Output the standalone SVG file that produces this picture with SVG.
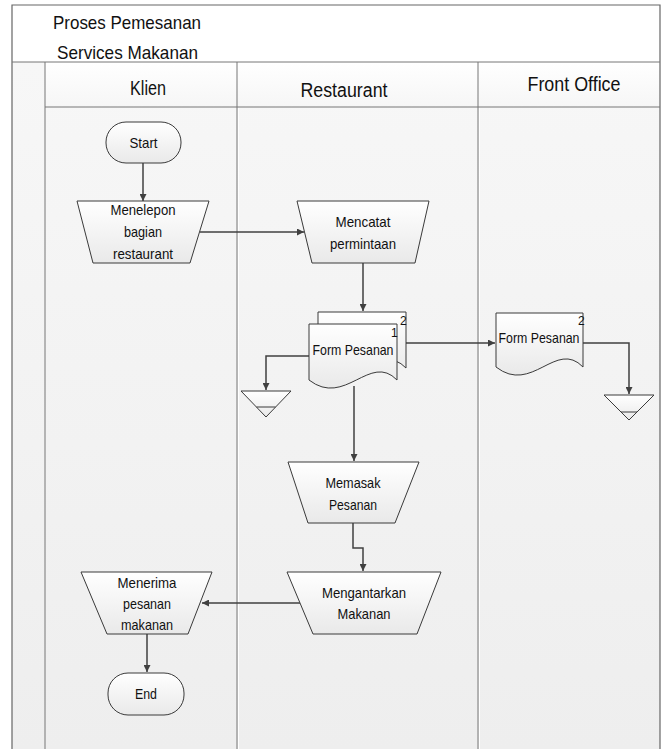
<svg xmlns="http://www.w3.org/2000/svg" width="667" height="749" viewBox="0 0 667 749">
<defs>
<linearGradient id="lane" x1="0" y1="0" x2="0" y2="1">
<stop offset="0" stop-color="#f7f7f7"/><stop offset="1" stop-color="#eeeeee"/>
</linearGradient>
<linearGradient id="head" x1="0" y1="0" x2="0" y2="1">
<stop offset="0" stop-color="#ffffff"/><stop offset="1" stop-color="#f6f6f6"/>
</linearGradient>
<linearGradient id="node" x1="0" y1="0" x2="0" y2="1">
<stop offset="0" stop-color="#ffffff"/><stop offset="1" stop-color="#e9e9e9"/>
</linearGradient>
<marker id="arr" viewBox="0 0 10 10" refX="10" refY="5" markerWidth="7" markerHeight="7" markerUnits="userSpaceOnUse" orient="auto">
<path d="M0,0 L10,5 L0,10 Z" fill="#404040"/>
</marker>
<style>
.frame{fill:none;stroke:#666;stroke-width:1.2}
.div{stroke:#777;stroke-width:1}
.shape{fill:url(#node);stroke:#3a3a3a;stroke-width:1}
.conn{fill:none;stroke:#404040;stroke-width:1.5}
.t{font-family:"Liberation Sans",Arial,sans-serif;font-size:14.5px;fill:#111;text-anchor:middle}
.title{font-family:"Liberation Sans",Arial,sans-serif;font-size:19px;fill:#111}
.lane{font-family:"Liberation Sans",Arial,sans-serif;font-size:20px;fill:#111;text-anchor:middle}
.num{font-family:"Liberation Sans",Arial,sans-serif;font-size:12px;fill:#111}
</style>
</defs>
<rect x="0" y="0" width="667" height="749" fill="#ffffff"/>
<g id="pool">
<rect x="12" y="5" width="648" height="57" fill="#ffffff"/>
<rect x="12" y="62" width="648" height="687" fill="url(#lane)"/>
<rect x="45" y="62" width="615" height="45" fill="url(#head)"/>
<path class="frame" d="M12,749 V5 H660 V749"/>
<line class="div" x1="12" y1="62" x2="660" y2="62"/>
<line class="div" x1="45" y1="62" x2="45" y2="749"/>
<line class="div" x1="45" y1="107" x2="660" y2="107"/>
<line class="div" x1="237" y1="62" x2="237" y2="749"/>
<line class="div" x1="478" y1="62" x2="478" y2="749"/>
<line x1="238.5" y1="108" x2="238.5" y2="749" stroke="#ffffff" stroke-width="1"/>
<line x1="479.5" y1="108" x2="479.5" y2="749" stroke="#ffffff" stroke-width="1"/>
<text class="title" x="53" y="29" textLength="148" lengthAdjust="spacingAndGlyphs">Proses Pemesanan</text>
<text class="title" x="57" y="59" textLength="141" lengthAdjust="spacingAndGlyphs">Services Makanan</text>
<text class="lane" x="148" y="95" textLength="36" lengthAdjust="spacingAndGlyphs">Klien</text>
<text class="lane" x="344" y="97" textLength="87" lengthAdjust="spacingAndGlyphs">Restaurant</text>
<text class="lane" x="574" y="91" textLength="93" lengthAdjust="spacingAndGlyphs">Front Office</text>
</g>
<g id="connectors">
<path class="conn" d="M143,163 V201" marker-end="url(#arr)"/>
<path class="conn" d="M200,232 H304" marker-end="url(#arr)"/>
<path class="conn" d="M363,263 V311" marker-end="url(#arr)"/>
<path class="conn" d="M309,356 H266 V390" marker-end="url(#arr)"/>
<path class="conn" d="M406,343 H495" marker-end="url(#arr)"/>
<path class="conn" d="M583,343 H629 V394" marker-end="url(#arr)"/>
<path class="conn" d="M354,386 V461" marker-end="url(#arr)"/>
<path class="conn" d="M353,523 V548 H363 V571" marker-end="url(#arr)"/>
<path class="conn" d="M300,603 H202" marker-end="url(#arr)"/>
<path class="conn" d="M147,634 V672" marker-end="url(#arr)"/>
</g>
<g id="start">
<rect class="shape" x="106" y="122" width="75" height="41" rx="20" ry="20"/>
<text class="t" x="143.5" y="148" textLength="28" lengthAdjust="spacingAndGlyphs">Start</text>
</g>
<g id="menelepon">
<path class="shape" d="M77,201 H209 L190,263 H93 Z"/>
<text class="t" x="143" y="215" textLength="65" lengthAdjust="spacingAndGlyphs">Menelepon</text>
<text class="t" x="143" y="237" textLength="38" lengthAdjust="spacingAndGlyphs">bagian</text>
<text class="t" x="143" y="259" textLength="60" lengthAdjust="spacingAndGlyphs">restaurant</text>
</g>
<g id="mencatat">
<path class="shape" d="M297,201 H429 L415,263 H312 Z"/>
<text class="t" x="363" y="227" textLength="55" lengthAdjust="spacingAndGlyphs">Mencatat</text>
<text class="t" x="363" y="249" textLength="66" lengthAdjust="spacingAndGlyphs">permintaan</text>
</g>
<g id="form-pesanan-restaurant">
<path class="shape" d="M318,312 H406 V368 C379,340 354,396 318,368 Z"/>
<text class="num" x="400" y="325">2</text>
<path class="shape" d="M309,324 H397 V380 C370,352 345,408 309,380 Z"/>
<text class="num" x="391" y="337">1</text>
<text class="t" x="353" y="355" textLength="81" lengthAdjust="spacingAndGlyphs">Form Pesanan</text>
</g>
<g id="arsip-restaurant">
<path class="shape" d="M241,391 H291 L266,417 Z"/>
<line x1="256.5" y1="407" x2="275.5" y2="407" stroke="#3a3a3a" stroke-width="1"/>
</g>
<g id="form-pesanan-fo">
<path class="shape" d="M496,313 H583 V367 C556,339 532,395 496,367 Z"/>
<text class="num" x="578" y="325">2</text>
<text class="t" x="539" y="343" textLength="81" lengthAdjust="spacingAndGlyphs">Form Pesanan</text>
</g>
<g id="arsip-fo">
<path class="shape" d="M604,395 H654 L629,420 Z"/>
<line x1="621" y1="412" x2="637" y2="412" stroke="#3a3a3a" stroke-width="1"/>
</g>
<g id="memasak">
<path class="shape" d="M288,462 H419 L395,523 H308 Z"/>
<text class="t" x="353" y="488" textLength="55" lengthAdjust="spacingAndGlyphs">Memasak</text>
<text class="t" x="353" y="510" textLength="48" lengthAdjust="spacingAndGlyphs">Pesanan</text>
</g>
<g id="mengantarkan">
<path class="shape" d="M287,572 H441 L417,634 H313 Z"/>
<text class="t" x="364" y="598" textLength="84" lengthAdjust="spacingAndGlyphs">Mengantarkan</text>
<text class="t" x="364" y="619" textLength="53" lengthAdjust="spacingAndGlyphs">Makanan</text>
</g>
<g id="menerima">
<path class="shape" d="M81,572 H212 L188,634 H107 Z"/>
<text class="t" x="147" y="588" textLength="59" lengthAdjust="spacingAndGlyphs">Menerima</text>
<text class="t" x="147" y="609" textLength="48" lengthAdjust="spacingAndGlyphs">pesanan</text>
<text class="t" x="147" y="630" textLength="52" lengthAdjust="spacingAndGlyphs">makanan</text>
</g>
<g id="end">
<rect class="shape" x="108" y="673" width="76" height="42" rx="20" ry="20"/>
<text class="t" x="146" y="699" textLength="22" lengthAdjust="spacingAndGlyphs">End</text>
</g>
</svg>
